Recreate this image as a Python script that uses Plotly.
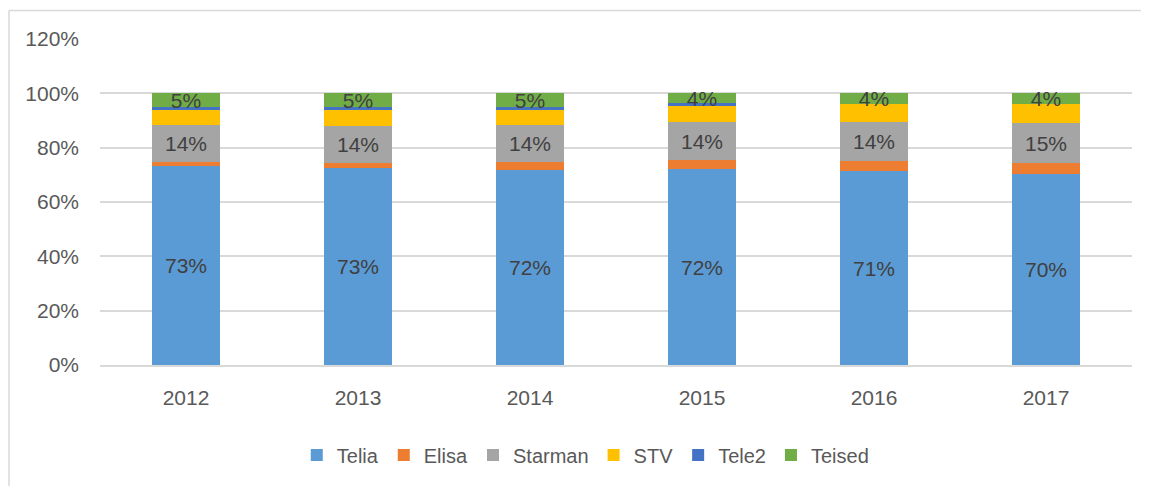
import plotly.graph_objects as go

years = ["2012", "2013", "2014", "2015", "2016", "2017"]
telia = [73.1, 72.6, 71.6, 72.0, 71.4, 70.3]
elisa = [1.6, 1.9, 3.1, 3.4, 3.6, 3.9]
starman = [13.5, 13.5, 13.5, 14.0, 14.4, 14.9]
stv = [5.7, 5.7, 5.7, 6.0, 6.5, 6.8]
tele2 = [1.1, 1.2, 1.0, 0.9, 0.0, 0.0]
teised = [5.0, 5.1, 5.1, 3.7, 4.1, 4.1]

y_ticks = [0, 20, 40, 60, 80, 100, 120]

FONT = "Liberation Sans, Arial, sans-serif"
series = [
    ("Telia", telia, "#5B9BD5", True),
    ("Elisa", elisa, "#ED7D31", False),
    ("Starman", starman, "#A5A5A5", True),
    ("STV", stv, "#FFC000", False),
    ("Tele2", tele2, "#4472C4", False),
    ("Teised", teised, "#70AD47", True),
]

fig = go.Figure()
for name, vals, color, labeled in series:
    if labeled:
        kw = dict(
            texttemplate="%{y:.0f}%",
            textposition="inside",
            insidetextanchor="middle",
            textangle=0,
            constraintext="none",
            textfont=dict(family=FONT, size=21, color="#404040"),
        )
    else:
        kw = dict(textposition="none")
    fig.add_trace(go.Bar(
        name=name, x=years, y=vals,
        marker=dict(color=color, line=dict(width=0)),
        hoverinfo="skip",
        **kw,
    ))

fig.update_layout(
    barmode="stack",
    bargap=0.605,
    width=1141, height=478,
    margin=dict(l=92, r=17, t=31, b=116),
    paper_bgcolor="white",
    plot_bgcolor="white",
    font=dict(family=FONT, size=21, color="#595959"),
    showlegend=True,
    legend=dict(
        orientation="h",
        x=0.4707, xanchor="center",
        y=-0.276, yanchor="middle",
        font=dict(family=FONT, size=20, color="#595959"),
        traceorder="normal",
        itemclick=False,
    ),
)

fig.update_xaxes(
    type="category",
    showgrid=False,
    showline=True, linecolor="#D9D9D9", linewidth=1.5,
    ticks="", ticklabelstandoff=13,
    tickfont=dict(family=FONT, size=21, color="#595959"),
)
fig.update_yaxes(
    range=[0, 120],
    tickvals=y_ticks,
    ticktext=[f"{v}%" for v in y_ticks],
    showgrid=True, gridcolor="#D9D9D9", gridwidth=1.5,
    zeroline=False, showline=False,
    ticks="", ticklabelstandoff=20,
    tickfont=dict(family=FONT, size=21, color="#595959"),
)

# outer chart border (left and top edges visible)
bx = -91 / 1032
by = 1 + 29 / 331
fig.add_shape(type="line", xref="paper", yref="paper", x0=bx, x1=bx, y0=-0.4, y1=by,
              line=dict(color="#D9D9D9", width=1.5))
fig.add_shape(type="line", xref="paper", yref="paper", x0=bx, x1=1.03, y0=by, y1=by,
              line=dict(color="#D9D9D9", width=1.5))

fig.write_html("out.html")
